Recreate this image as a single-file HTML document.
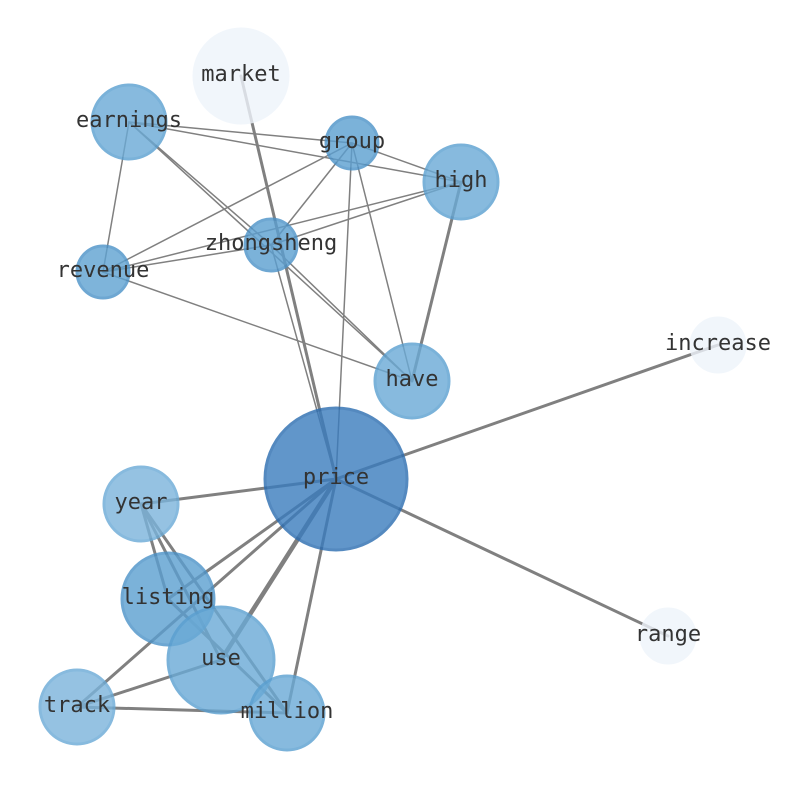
<!DOCTYPE html>
<html><head><meta charset="utf-8"><style>html,body{margin:0;padding:0;background:#fff}svg{display:block}</style></head><body>
<svg width="794" height="790" viewBox="0 0 794 790" xmlns="http://www.w3.org/2000/svg">
<g stroke="#808080" fill="none" stroke-linecap="round">
<g stroke-width="1.5">
<line x1="129" y1="122" x2="352" y2="143"/>
<line x1="129" y1="122" x2="461" y2="182"/>
<line x1="129" y1="122" x2="103" y2="272"/>
<line x1="129" y1="122" x2="271" y2="245"/>
<line x1="129" y1="122" x2="412" y2="381"/>
<line x1="352" y1="143" x2="461" y2="182"/>
<line x1="352" y1="143" x2="103" y2="272"/>
<line x1="352" y1="143" x2="271" y2="245"/>
<line x1="352" y1="143" x2="412" y2="381"/>
<line x1="352" y1="143" x2="336" y2="479"/>
<line x1="461" y1="182" x2="271" y2="245"/>
<line x1="461" y1="182" x2="103" y2="272"/>
<line x1="103" y1="272" x2="271" y2="245"/>
<line x1="103" y1="272" x2="412" y2="381"/>
<line x1="271" y1="245" x2="412" y2="381"/>
<line x1="271" y1="245" x2="336" y2="479"/>
</g>
<g stroke-width="3">
<line x1="241" y1="76" x2="336" y2="479"/>
<line x1="461" y1="182" x2="412" y2="381"/>
<line x1="336" y1="479" x2="718" y2="345"/>
<line x1="336" y1="479" x2="668" y2="636"/>
<line x1="336" y1="479" x2="141" y2="504"/>
<line x1="336" y1="479" x2="168" y2="599"/>
<line x1="336" y1="479" x2="221" y2="660" stroke-width="4.5"/>
<line x1="336" y1="479" x2="77" y2="707"/>
<line x1="336" y1="479" x2="287" y2="713"/>
<line x1="141" y1="504" x2="168" y2="599"/>
<line x1="141" y1="504" x2="221" y2="660"/>
<line x1="141" y1="504" x2="287" y2="713"/>
<line x1="77" y1="707" x2="221" y2="660"/>
<line x1="77" y1="707" x2="287" y2="713"/>
<line x1="168" y1="599" x2="287" y2="713"/>
</g>
</g>
<g stroke-width="3">
<circle cx="241" cy="76" r="47" fill="#eef4fb" stroke="#eef4fb" opacity="0.8"/>
<circle cx="718" cy="345" r="27" fill="#eef4fb" stroke="#eef4fb" opacity="0.8"/>
<circle cx="668" cy="636" r="27" fill="#eef4fb" stroke="#eef4fb" opacity="0.8"/>
<circle cx="129" cy="122" r="37" fill="#6aaad6" stroke="#5a9fd0" opacity="0.8"/>
<circle cx="352" cy="143" r="26" fill="#5b9fd0" stroke="#4b92c8" opacity="0.8"/>
<circle cx="461" cy="182" r="37" fill="#6aaad6" stroke="#5a9fd0" opacity="0.8"/>
<circle cx="271" cy="245" r="26" fill="#5b9fd0" stroke="#4b92c8" opacity="0.8"/>
<circle cx="103" cy="272" r="26" fill="#5ea2d2" stroke="#4b92c8" opacity="0.8"/>
<circle cx="412" cy="381" r="37" fill="#6aaad6" stroke="#5a9fd0" opacity="0.8"/>
<circle cx="336" cy="479" r="71" fill="#3a7cbe" stroke="#2a6cb0" opacity="0.8"/>
<circle cx="141" cy="504" r="37" fill="#7bb4dc" stroke="#6aaad6" opacity="0.8"/>
<circle cx="168" cy="599" r="46" fill="#5b9fd0" stroke="#4b92c8" opacity="0.8"/>
<circle cx="221" cy="660" r="53" fill="#6aaad6" stroke="#5a9fd0" opacity="0.8"/>
<circle cx="77" cy="707" r="37" fill="#7bb4dc" stroke="#6aaad6" opacity="0.8"/>
<circle cx="287" cy="713" r="37" fill="#6aaad6" stroke="#5a9fd0" opacity="0.8"/>
</g>
<g font-family="'DejaVu Sans Mono','Liberation Mono',monospace" font-size="22" fill="#333" text-anchor="middle" dominant-baseline="central" transform="translate(0,-1.5)">
<text x="241" y="76">market</text>
<text x="129" y="122">earnings</text>
<text x="352" y="143">group</text>
<text x="461" y="182">high</text>
<text x="271" y="245">zhongsheng</text>
<text x="103" y="272">revenue</text>
<text x="412" y="381">have</text>
<text x="718" y="345">increase</text>
<text x="336" y="479">price</text>
<text x="141" y="504">year</text>
<text x="168" y="599">listing</text>
<text x="221" y="660">use</text>
<text x="77" y="707">track</text>
<text x="287" y="713">million</text>
<text x="668" y="636">range</text>
</g>
</svg>
</body></html>
